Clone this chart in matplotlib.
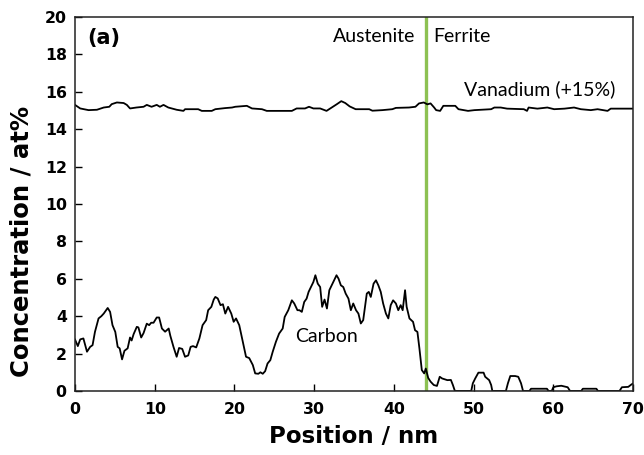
import numpy as np
import matplotlib.pyplot as plt

# Carbon profile (at%) along the line
carbon_x = [0.0, 0.35, 0.65, 1.05, 1.5, 1.9, 2.2, 2.5, 2.95, 3.3, 3.6, 4.1, 4.4, 4.7, 5.05,
            5.35, 5.6, 5.9, 6.2, 6.6, 6.9, 7.1, 7.35, 7.75, 7.95, 8.3, 8.6, 9.0, 9.3, 9.55,
            9.85, 10.25, 10.55, 10.9, 11.3, 11.75, 11.95, 12.35, 12.75, 13.05, 13.45, 13.8,
            14.2, 14.5, 14.8, 15.2, 15.6, 16.0, 16.45, 16.7, 17.1, 17.4, 17.6, 17.9, 18.25,
            18.55, 18.85, 19.2, 19.6, 19.9, 20.2, 20.6, 21.0, 21.45, 21.85, 22.3, 22.6, 23.0,
            23.25, 23.55, 23.85, 24.15, 24.5, 24.8, 25.2, 25.6, 26.05, 26.3, 26.75, 27.2,
            27.5, 27.9, 28.15, 28.45, 28.75, 29.05, 29.3, 29.6, 29.9, 30.15, 30.45, 30.75,
            31.0, 31.3, 31.6, 31.9, 32.2, 32.5, 32.8, 33.05, 33.35, 33.65, 33.95, 34.3, 34.6,
            34.9, 35.25, 35.55, 35.85, 36.15, 36.6, 36.85, 37.1, 37.45, 37.75, 38.05, 38.35,
            38.65, 39.0, 39.3, 39.6, 39.9, 40.25, 40.55, 40.85, 41.1, 41.4, 41.6, 41.95, 42.4,
            42.65, 42.95, 43.2, 43.5, 43.8, 44.0, 44.3, 44.6, 45.0, 45.4, 45.75, 46.05, 46.7,
            47.15, 47.4, 47.65, 49.7, 49.9, 50.2, 50.6, 51.25, 51.45, 51.95, 52.2, 52.35,
            54.05, 54.3, 54.6, 55.2, 55.6, 55.95, 56.2, 57.0, 57.2, 59.2, 59.4, 59.8, 60.0,
            60.4, 61.0, 61.8, 62.1, 63.5, 63.7, 65.4, 65.6, 68.3, 68.6, 69.4, 69.8, 70.0]
carbon_y = [2.75, 2.4, 2.76, 2.81, 2.1, 2.36, 2.45, 3.16, 3.88, 4.0, 4.14, 4.44, 4.23, 3.52, 3.16,
            2.36, 2.28, 1.69, 2.15, 2.28, 2.86, 2.7, 3.04, 3.43, 3.4, 2.86, 3.1, 3.6, 3.52, 3.65,
            3.65, 3.93, 3.93, 3.34, 3.17, 3.34, 2.96, 2.36, 1.83, 2.3, 2.25, 1.83,
            1.9, 2.36, 2.4, 2.33, 2.81, 3.52, 3.79, 4.32, 4.5, 4.89, 5.03, 4.95, 4.59,
            4.64, 4.14, 4.5, 4.14, 3.7, 3.88, 3.52, 2.72, 1.83, 1.76, 1.39, 0.94, 0.92,
            1.0, 0.92, 1.06, 1.47, 1.65, 2.1, 2.63, 3.07, 3.34, 3.96, 4.32, 4.85,
            4.68, 4.32, 4.32, 4.23, 4.76, 4.94, 5.3, 5.56, 5.83, 6.19, 5.74, 5.56,
            4.5, 4.89, 4.41, 5.39, 5.65, 5.92, 6.19, 6.01, 5.65, 5.56, 5.21, 4.94, 4.32,
            4.68, 4.32, 4.14, 3.61, 3.79, 5.21, 5.3, 5.03, 5.74, 5.92, 5.65, 5.3,
            4.68, 4.14, 3.88, 4.59, 4.85, 4.68, 4.32, 4.59, 4.32, 5.39, 4.5, 3.88, 3.7,
            3.25, 3.16, 2.28, 1.12, 0.94, 1.2, 0.7, 0.5, 0.32, 0.27, 0.76, 0.67, 0.58,
            0.59, 0.32, 0.0, 0.0, 0.41, 0.67, 0.98, 0.98, 0.76, 0.58, 0.32, 0.0,
            0.0, 0.41, 0.8, 0.8, 0.76, 0.41, 0.0, 0.0, 0.12, 0.12, 0.0, 0.0, 0.2,
            0.25, 0.28, 0.2, 0.0, 0.0, 0.12, 0.12, 0.0, 0.0, 0.2, 0.22, 0.35, 0.4]

# Vanadium profile, already offset by +15 at%
vanadium_x = [0.0, 0.65, 1.7, 2.75, 3.6, 4.3, 4.6, 5.25, 6.1, 6.5, 6.9, 7.7, 8.6, 9.0, 9.6,
              10.25, 10.65, 11.1, 11.7, 12.75, 13.6, 13.8, 15.45, 15.9, 17.15, 17.6, 18.85,
              19.7, 20.1, 21.55, 22.2, 23.45, 24.05, 27.2, 27.8, 28.85, 29.35, 29.9, 30.75,
              31.55, 32.2, 32.85, 33.4, 33.9, 34.45, 35.2, 36.9, 37.3, 38.55, 39.8, 40.25,
              41.9, 42.7, 43.15, 43.75, 44.2, 44.6, 45.05, 45.3, 45.8, 46.2, 47.7, 48.1, 49.3,
              50.1, 52.2, 52.6, 53.4, 54.2, 56.3, 56.7, 56.9, 58.0, 59.25, 60.1, 61.4, 62.6,
              63.45, 64.7, 65.55, 66.8, 67.2, 70.0]
vanadium_y = [15.3, 15.11, 15.02, 15.04, 15.16, 15.2, 15.34, 15.43, 15.4, 15.3, 15.11, 15.16,
              15.2, 15.3, 15.2, 15.3, 15.2, 15.3, 15.16, 15.04, 14.98, 15.07, 15.07, 14.98,
              14.98, 15.07, 15.13, 15.16, 15.2, 15.25, 15.11, 15.07, 14.98, 14.98, 15.11,
              15.11, 15.2, 15.11, 15.11, 14.98, 15.16, 15.34, 15.5, 15.4, 15.22, 15.07, 15.07,
              14.99, 15.02, 15.07, 15.14, 15.16, 15.2, 15.38, 15.43, 15.33, 15.38, 15.16,
              15.02, 14.98, 15.25, 15.25, 15.07, 14.98, 15.02, 15.07, 15.16, 15.16, 15.1,
              15.07, 14.98, 15.16, 15.1, 15.16, 15.07, 15.1, 15.16, 15.07, 15.02, 15.07,
              14.98, 15.1, 15.1]

interface_pos = 44.0
x_ticks = np.arange(0, 71, 10)
y_ticks = np.arange(0, 21, 2)

fig = plt.figure(figsize=(6.44, 4.55), dpi=100)
ax = fig.add_axes([0.1165, 0.1407, 0.8665, 0.8219])

ax.axvline(interface_pos, color='#8dc153', lw=2.4, zorder=1)
ax.plot(vanadium_x, vanadium_y, color='black', lw=1.3, zorder=2)
ax.plot(carbon_x, carbon_y, color='black', lw=1.3, zorder=2)

ax.set_xlim(0, 70)
ax.set_ylim(0, 20)
ax.set_xticks(x_ticks)
ax.set_yticks(y_ticks)
ax.tick_params(direction='in', length=5, width=1, top=False, right=False,
               labelsize=11.3)
ax.tick_params(axis='x', pad=8)
ax.tick_params(axis='y', pad=6)
for lab in ax.get_xticklabels() + ax.get_yticklabels():
    lab.set_fontweight('bold')
for sp in ax.spines.values():
    sp.set_linewidth(1.1)
    sp.set_color('#222222')

ax.set_xlabel('Position / nm', fontsize=16.5, fontweight='bold', labelpad=6)
ax.set_ylabel('Concentration / at%', fontsize=17.5, fontweight='bold')
ax.yaxis.set_label_coords(-0.074, 0.40)

note = dict(fontsize=14, family='Lato', color='black')
ax.text(1.5, 18.9, '(a)', fontsize=15, fontweight='bold', va='center', ha='left')
ax.text(42.7, 18.95, 'Austenite', ha='right', va='center', **note)
ax.text(44.9, 18.95, 'Ferrite', ha='left', va='center', **note)
ax.text(58.3, 16.15, 'Vanadium (+15%)', ha='center', va='center', **note)
ax.text(31.5, 2.93, 'Carbon', ha='center', va='center', **note)

fig.savefig('out.png', dpi=100)
